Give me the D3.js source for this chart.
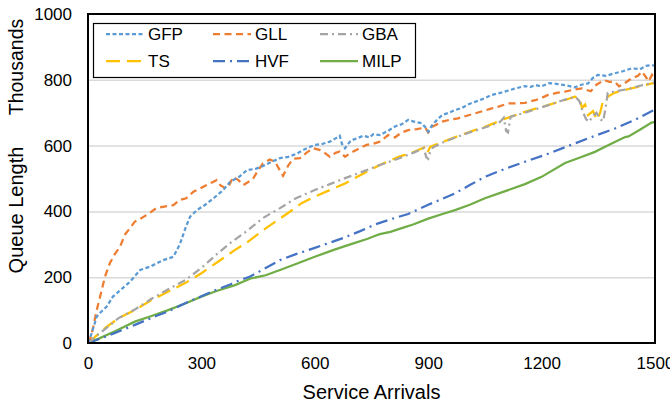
<!DOCTYPE html>
<html>
<head>
<meta charset="utf-8">
<script src="https://cdn.jsdelivr.net/npm/d3@7"></script>
<style>
  body { margin: 0; background: #fff; }
  text { font-family: "Liberation Sans", Arial, sans-serif; fill: #000; }
</style>
</head>
<body>
<svg id="vis"></svg>
<script>
const plotWidth = 670;
const plotHeight = 407;
const svg = d3.select('#vis')
            .attr('width', plotWidth)
            .attr('height', plotHeight);

// values: [service arrivals, queue length in thousands]
const gfp = [[0,0],[10,30],[23,80],[35,95],[49,110],[66,141],[85,160],[111,186],[138,222],[164,232],[199,252],[226,262],[243,300],[258,350],[270,384],[288,404],[310,420],[332,440],[358,465],[376,490],[400,505],[420,525],[445,530],[463,538],[485,550],[508,562],[530,566],[552,575],[575,590],[600,602],[620,605],[640,612],[655,622],[666,630],[672,605],[680,592],[695,615],[711,622],[729,630],[745,625],[755,635],[772,632],[794,645],[812,658],[830,665],[847,678],[865,672],[883,668],[893,655],[900,642],[912,665],[925,680],[937,693],[955,700],[971,708],[990,715],[1005,725],[1024,733],[1045,742],[1068,754],[1090,760],[1111,767],[1135,775],[1156,781],[1170,778],[1183,784],[1200,780],[1220,790],[1243,787],[1265,783],[1288,777],[1305,785],[1323,789],[1335,805],[1349,815],[1370,812],[1394,820],[1415,826],[1439,835],[1460,832],[1475,842],[1492,845],[1500,842]];
const gll = [[0,0],[8,20],[14,50],[22,95],[32,141],[45,202],[58,243],[71,270],[85,293],[98,330],[111,349],[124,369],[133,374],[155,389],[181,410],[205,415],[226,419],[243,435],[260,440],[279,460],[297,470],[314,480],[328,488],[340,495],[350,480],[362,471],[373,478],[384,505],[398,495],[411,480],[425,490],[437,500],[450,525],[463,546],[481,558],[495,551],[505,530],[516,508],[530,540],[543,560],[561,562],[580,580],[596,592],[610,588],[622,582],[640,566],[655,578],[666,582],[680,566],[695,578],[711,587],[725,596],[737,602],[755,606],[772,612],[794,632],[812,625],[830,640],[847,647],[870,650],[892,655],[900,640],[912,658],[937,673],[955,678],[979,683],[1000,690],[1024,698],[1045,705],[1068,713],[1090,720],[1111,728],[1130,728],[1156,730],[1183,738],[1200,745],[1217,754],[1240,760],[1262,764],[1285,770],[1307,774],[1330,765],[1345,785],[1365,799],[1380,794],[1394,794],[1405,780],[1420,790],[1439,805],[1455,812],[1465,825],[1475,810],[1483,795],[1492,815],[1500,800]];
const gba = [[0,0],[20,20],[45,42],[80,75],[124,102],[169,135],[210,162],[257,191],[300,228],[344,273],[380,307],[420,340],[463,380],[508,410],[550,440],[600,465],[640,483],[680,501],[720,518],[772,541],[820,560],[860,578],[888,592],[895,565],[900,560],[905,580],[912,594],[940,610],[979,628],[1010,640],[1050,655],[1090,672],[1100,685],[1106,645],[1111,640],[1118,688],[1156,700],[1210,720],[1262,740],[1290,748],[1300,735],[1310,700],[1318,680],[1326,672],[1335,690],[1345,700],[1355,680],[1363,674],[1370,720],[1375,760],[1394,765],[1430,772],[1460,782],[1500,792]];
const ts = [[0,0],[20,20],[45,45],[80,75],[124,100],[169,131],[210,155],[257,182],[300,212],[344,247],[389,283],[420,305],[463,343],[500,372],[534,399],[565,425],[600,445],[640,465],[680,485],[720,510],[772,541],[820,565],[860,580],[892,596],[898,578],[905,596],[940,612],[979,629],[1010,642],[1050,657],[1100,680],[1156,703],[1217,723],[1260,738],[1288,749],[1300,745],[1307,714],[1315,725],[1323,693],[1336,705],[1346,678],[1355,700],[1363,739],[1380,752],[1394,761],[1430,772],[1460,780],[1492,789],[1500,790]];
const hvf = [[0,0],[30,12],[70,30],[124,55],[180,82],[212,96],[257,121],[300,142],[340,162],[376,178],[400,190],[429,202],[470,228],[508,252],[550,270],[600,289],[640,305],[675,319],[720,340],[759,360],[800,376],[847,392],[900,420],[971,455],[1010,480],[1050,505],[1100,528],[1156,551],[1210,572],[1262,595],[1330,625],[1394,652],[1450,680],[1492,705],[1500,708]];
const milp = [[0,0],[30,14],[70,35],[124,65],[170,83],[212,100],[257,120],[300,141],[340,158],[389,176],[430,196],[470,206],[508,222],[550,240],[600,262],[650,283],[700,302],[740,317],[760,326],[772,331],[800,338],[830,349],[860,360],[900,378],[940,393],[971,404],[1010,420],[1050,440],[1100,460],[1156,483],[1200,505],[1262,547],[1300,563],[1341,581],[1380,603],[1421,626],[1430,628],[1460,648],[1491,670],[1500,672]];

const seriesNames = ['GFP', 'GLL', 'GBA', 'TS', 'HVF', 'MILP'];
const xTicks = [0, 300, 600, 900, 1200, 1500];
const yTicks = [0, 200, 400, 600, 800, 1000];

function main() {
    const margin = {left: 88, right: 655, top: 14, bottom: 343};
    const x = d3.scaleLinear().domain([0, 1500]).range([margin.left, margin.right]);
    const y = d3.scaleLinear().domain([0, 1000]).range([margin.bottom, margin.top]);

    drawAxes(x, y, margin);

    const styles = {
        GFP:  {data: gfp,  color: '#5B9BD5', dash: '4,2.5'},
        GLL:  {data: gll,  color: '#ED7D31', dash: '7,4.5'},
        GBA:  {data: gba,  color: '#A5A5A5', dash: '8,4,2,4'},
        TS:   {data: ts,   color: '#FFC000', dash: '14,7'},
        HVF:  {data: hvf,  color: '#4472C4', dash: '12,5,2,5'},
        MILP: {data: milp, color: '#70AD47', dash: null},
    };

    const line = d3.line().x(d => x(d[0])).y(d => y(d[1]));
    // draw back to front so MILP / HVF sit under the noisy ones like excel
    ['MILP', 'HVF', 'TS', 'GBA', 'GLL', 'GFP'].forEach(name => {
        const s = styles[name];
        svg.append('path')
            .datum(s.data)
            .attr('d', line)
            .attr('fill', 'none')
            .attr('stroke', s.color)
            .attr('stroke-width', 2.25)
            .attr('stroke-dasharray', s.dash);
    });

    // frame on top of lines
    svg.append('rect')
        .attr('x', margin.left).attr('y', margin.top)
        .attr('width', margin.right - margin.left)
        .attr('height', margin.bottom - margin.top)
        .attr('fill', 'none').attr('stroke', '#000').attr('stroke-width', 2);

    drawLegend(styles);
}

function drawAxes(x, y, margin) {
    // gridlines
    svg.append('g')
        .attr('transform', `translate(${margin.left},0)`)
        .call(d3.axisLeft(y).tickValues(yTicks.slice(1, -1)).tickSize(-(margin.right - margin.left)).tickFormat(''))
        .call(g => g.select('.domain').remove())
        .selectAll('line').attr('stroke', '#D9D9D9').attr('stroke-width', 1.5);

    const yAxis = svg.append('g')
        .attr('transform', `translate(${margin.left},0)`)
        .call(d3.axisLeft(y).tickValues(yTicks).tickSize(0).tickPadding(16).tickFormat(d => d));
    yAxis.select('.domain').remove();
    yAxis.selectAll('text').style('font-size', '17px').style('font-family', '"Liberation Sans", Arial, sans-serif');

    const xAxis = svg.append('g')
        .attr('transform', `translate(0,${margin.bottom})`)
        .call(d3.axisBottom(x).tickValues(xTicks).tickSize(0).tickPadding(14).tickFormat(d => d));
    xAxis.select('.domain').remove();
    xAxis.selectAll('text').style('font-size', '17px').style('font-family', '"Liberation Sans", Arial, sans-serif');

    svg.append('text')
        .attr('x', (margin.left + margin.right) / 2)
        .attr('y', 399)
        .attr('text-anchor', 'middle')
        .style('font-size', '20px')
        .text('Service Arrivals');

    svg.append('text')
        .attr('transform', 'translate(23,210) rotate(-90)')
        .attr('text-anchor', 'middle')
        .style('font-size', '20px')
        .text('Queue Length');

    svg.append('text')
        .attr('transform', 'translate(23,67) rotate(-90)')
        .attr('text-anchor', 'middle')
        .style('font-size', '19.5px')
        .text('Thousands');
}

function drawLegend(styles) {
    svg.append('rect')
        .attr('x', 93.5).attr('y', 23.5)
        .attr('width', 322).attr('height', 54)
        .attr('fill', '#fff').attr('stroke', '#000').attr('stroke-width', 1.2);

    const colX = [106, 213, 320];
    const rowY = [34, 61];
    seriesNames.forEach((name, i) => {
        const cx = colX[i % 3];
        const cy = rowY[Math.floor(i / 3)];
        svg.append('line')
            .attr('x1', cx).attr('x2', cx + 38)
            .attr('y1', cy).attr('y2', cy)
            .attr('stroke', styles[name].color)
            .attr('stroke-width', 2.25)
            .attr('stroke-dasharray', styles[name].dash);
        svg.append('text')
            .attr('x', cx + 42)
            .attr('y', cy + 6)
            .style('font-size', '17px')
            .text(name);
    });
}

main()
</script>
</body>
</html>
